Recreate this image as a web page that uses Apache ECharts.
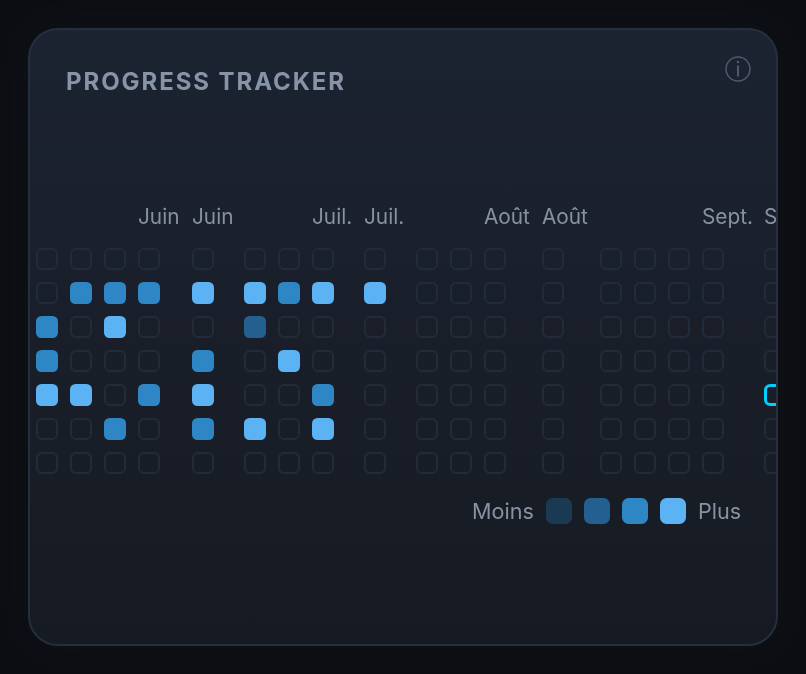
<!DOCTYPE html>
<html><head><meta charset="utf-8">
<script src="https://cdn.jsdelivr.net/npm/echarts@6/dist/echarts.min.js"></script>
<style>
html,body{margin:0;padding:0;width:806px;height:674px;overflow:hidden;background:#0c0e13;font-family:Inter,sans-serif}
#card{position:absolute;left:28px;top:28px;width:746px;height:614px;border:2px solid #262f3e;border-radius:30px;overflow:hidden;background:linear-gradient(180deg,#1c2331 0%,#161a22 100%);box-shadow:0 0 40px rgba(20,24,30,.5)}
#title{position:absolute;left:36px;top:37px;margin:0;font:700 24px/30px Inter,sans-serif;letter-spacing:1.92px;color:#8794a8;z-index:2}
#chart{position:absolute;left:0;top:0;width:746px;height:614px}
</style></head><body>
<div id="card"><h1 id="title">PROGRESS TRACKER</h1><div id="chart"></div></div>
<script>
const columnOffsets=[0,34,68,102,156,208,242,276,328,380,414,448,506,564,598,632,666,728];
const rows=[0,1,2,3,4,5,6];
const levelsByRow=[
[0,0,0,0,0,0,0,0,0,0,0,0,0,0,0,0,0,0],
[0,3,3,3,4,4,3,4,4,0,0,0,0,0,0,0,0,0],
[3,0,4,0,0,2,0,0,0,0,0,0,0,0,0,0,0,0],
[3,0,0,0,3,0,4,0,0,0,0,0,0,0,0,0,0,0],
[4,4,0,3,4,0,0,3,0,0,0,0,0,0,0,0,0,0],
[0,0,3,0,3,4,0,4,0,0,0,0,0,0,0,0,0,0],
[0,0,0,0,0,0,0,0,0,0,0,0,0,0,0,0,0,0]];
const todayColumn=17,todayRow=4;
const monthLabels=['Juin','Juin','Juil.','Juil.','Août','Août','Sept.','Sept.'];
const monthColumns=[3,4,7,8,11,12,16,17];
const legendLevels=[1,2,3,4];
const legendColors=['#1a3a54','#236090','#2e86c4','#5cb3f3'];
const legendEnds=['Moins','Plus'];

const empty=[],filled=[];
levelsByRow.forEach((r,y)=>r.forEach((v,x)=>{
  if(x===todayColumn&&y===todayRow)return;
  (v>0?filled:empty).push([columnOffsets[x],y,v]);
}));
const halfCell=11;
const labelAt={};
monthColumns.forEach((c,i)=>labelAt[columnOffsets[c]-halfCell]=monthLabels[i]);
const legendFont={fill:'#8891a1',font:'21.6px Inter',verticalAlign:'middle',align:'left'};

const chart=echarts.init(document.getElementById('chart'));
chart.setOption({
  animation:false,
  backgroundColor:'transparent',
  grid:{left:6,top:212,width:740,height:238,outerBoundsMode:'none'},
  xAxis:{type:'value',min:-halfCell,max:729,splitLine:{show:false},axisLine:{show:false},axisTick:{show:false},
    axisLabel:{customValues:Object.keys(labelAt).map(Number),align:'left',margin:14,color:'#8891a1',
      fontFamily:'Inter',fontSize:20.8,hideOverlap:false,formatter:v=>labelAt[v]},position:'top'},
  yAxis:{type:'category',data:rows,inverse:true,show:false},
  visualMap:{type:'piecewise',seriesIndex:1,dimension:2,orient:'horizontal',left:501,top:453,showLabel:false,
    selectedMode:false,hoverLink:false,itemWidth:26,itemHeight:26,itemGap:12,itemSymbol:'roundRect',
    pieces:legendLevels.map((v,i)=>({value:v,color:legendColors[i]}))},
  graphic:[
    {type:'circle',shape:{cx:708,cy:39,r:12},style:{fill:'none',stroke:'#4f5968',lineWidth:1.5}},
    {type:'rect',shape:{x:707,y:35.5,width:2,height:11},style:{fill:'#4f5968'}},
    {type:'circle',shape:{cx:708,cy:32,r:1.3},style:{fill:'#4f5968'}},
    {type:'text',x:442,y:482,style:Object.assign({text:legendEnds[0]},legendFont)},
    {type:'text',x:668,y:482,style:Object.assign({text:legendEnds[1]},legendFont)}
  ],
  series:[
    {type:'scatter',clip:true,symbol:'roundRect',symbolSize:20,silent:true,data:empty,
      itemStyle:{color:'transparent',borderColor:'#222b39',borderWidth:2,opacity:1}},
    {type:'scatter',clip:true,symbol:'roundRect',symbolSize:22,silent:true,data:filled,itemStyle:{opacity:1}},
    {type:'scatter',clip:true,symbol:'roundRect',symbolSize:19,silent:true,
      data:[[columnOffsets[todayColumn],todayRow,0]],
      itemStyle:{color:'transparent',borderColor:'#00cfff',borderWidth:3,opacity:1}}
  ]
});
</script></body></html>
